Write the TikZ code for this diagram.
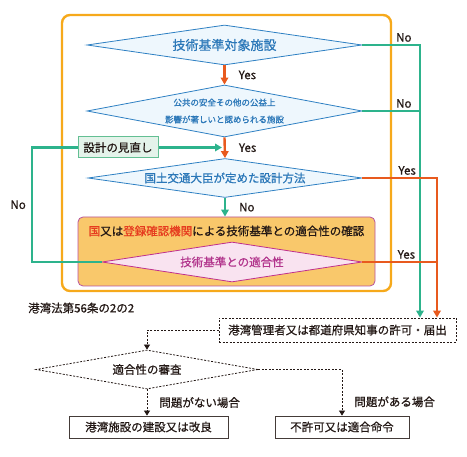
\documentclass[tikz,border=0pt]{standalone}
\usepackage{fontspec}
\setmainfont{Noto Sans CJK JP}[FakeBold=0.7]
\usepackage{tikz}
\usetikzlibrary{arrows.meta}
\usetikzlibrary{positioning}
\usetikzlibrary{shapes.geometric}
\definecolor{frameor}{HTML}{F6A91B}
\definecolor{arrowor}{HTML}{E85A1E}
\definecolor{grn}{HTML}{2DB38C}
\definecolor{qblue}{HTML}{2E80C3}
\definecolor{qfill}{HTML}{EEF7FD}
\definecolor{qtext}{HTML}{2A77B8}
\definecolor{boxor}{HTML}{F9C86B}
\definecolor{boxpk}{HTML}{B9539D}
\definecolor{pkline}{HTML}{C0308C}
\definecolor{pkfill}{HTML}{F9E3F0}
\definecolor{pktext}{HTML}{B2348C}
\definecolor{redtx}{HTML}{E63B1F}
\definecolor{revfill}{HTML}{E4F3EA}
\definecolor{revline}{HTML}{63BF93}
\definecolor{ink}{HTML}{231815}

\begin{document}
\begin{tikzpicture}[x=1pt,y=-1pt,font=\fontsize{11.5}{14}\selectfont,text=ink]
	\tikzset{
		Q/.style={diamond,draw=qblue,fill=qfill,line width=0.8pt,inner sep=0pt},
		QT/.style={text=qtext,inner sep=0pt},
		DQ/.style={diamond,draw=ink,dash pattern=on 2pt off 1.5pt,line width=0.8pt,inner sep=0pt},
		DB/.style={draw=ink,dash pattern=on 2pt off 1.5pt,line width=0.8pt,inner sep=0pt},
		B/.style={draw=ink!85,line width=0.8pt,minimum height=22pt,inner sep=0pt},
		G/.style={draw=grn,line width=2.4pt},
		O/.style={draw=arrowor,line width=2.4pt},
		DL/.style={draw=ink,dash pattern=on 2pt off 1.5pt,line width=0.8pt,-{Triangle[length=5pt,width=6pt]}},
		L/.style={inner sep=0pt,text=ink},
		>={Triangle[length=7pt,width=7.5pt]},
	}
	\useasboundingbox (0,0) rectangle (467,457);
	
	\draw[frameor,line width=2.4pt,rounded corners=8pt] (62,15) rectangle (391,291);
	
	\node[Q,minimum width=275pt,minimum height=40pt,label={[QT,font=\fontsize{13}{15}\selectfont]center:技術基準対象施設}] (d1) at (224.5,45) {};
	\node[Q,minimum width=275pt,minimum height=52pt,label={[QT,align=center,font=\fontsize{8.5}{17}\selectfont]center:公共の安全その他の公益上\\影響が著しいと認められる施設}] (d2) at (224.5,111) {};
	\node[Q,minimum width=274pt,minimum height=39pt,label={[QT]center:国土交通大臣が定めた設計方法}] (d3) at (225,178) {};
	\node[draw=boxpk,fill=boxor,line width=0.8pt,rounded corners=5pt,minimum width=297pt,minimum height=69pt] (chk) at (226.5,251.5) {};
	\node[L] (chkt) at (226.5,231) {\textcolor{redtx}{国}又は\textcolor{redtx}{登録確認機関}による技術基準との適合性の確認};
	\node[diamond,draw=pkline,fill=pkfill,line width=0.8pt,inner sep=0pt,minimum width=260pt,minimum height=40pt,label={[L,text=pktext]center:技術基準との適合性}] (d4) at (232,262) {};
	\node[draw=revline,fill=revfill,line width=1pt,minimum width=80pt,minimum height=21pt,inner sep=0pt] (rev) at (118,147.5) {設計の見直し};
	
	\node[L,anchor=west] (law) at (28,308) {港湾法第56条の2の2};
	\node[DB,minimum width=237pt,minimum height=24pt] (prm) at (337.5,330) {港湾管理者又は都道府県知事の許可・届出};
	\node[DQ,minimum width=222pt,minimum height=39pt,label={[L]center:適合性の審査}] (d5) at (147,369.5) {};
	\node[B,minimum width=159pt] (ok) at (148.5,427) {港湾施設の建設又は改良};
	\node[B,minimum width=134pt] (ng) at (342,427) {不許可又は適合命令};
	
	\coordinate (gx) at (420,0);
	\coordinate (ox) at (437,0);
	\coordinate (lx) at (32,0);
	\coordinate (mrg) at (d3.north |- rev);
	
	% main flow
	\draw[O,->] (d1.south) -- (d2.north) node[L,midway,right=13pt] {Yes};
	\draw[O,->] (d2.south) -- (d3.north) node[L,midway,right=13pt] {Yes};
	\draw[G,->] (rev.east) -- ([xshift=-3pt]mrg);
	\draw[G,->] (d3.south) -- (d3.south |- chk.north) node[L,midway,right=13pt] {No};
	
	% exits to the right
	\draw[G,->] (d1.east) -| (gx |- prm.north) node[L,pos=0.36,above=2pt] {No};
	\draw[G] (d2.east) -- (gx |- d2.east) node[L,pos=0.72,above=2pt] {No};
	\draw[O,->] (d3.east) -| (ox |- prm.north) node[L,pos=0.3,above=2pt] {Yes};
	\draw[O] (d4.east) -- (ox |- d4.east) node[L,pos=0.59,above=2pt] {Yes};
	\draw[G] (d4.west) -- (lx |- d4.west) |- (rev.west) node[L,pos=0.25,left=5pt] {No};
	
	% review
	\draw[DL] (prm.west) -| (d5.north);
	\draw[DL] (d5.south) -- (d5.south |- ok.north) node[L,midway,right=12pt] {問題がない場合};
	\draw[DL] (d5.east) -| (ng.north) node[L,pos=0.85,right=12pt] {問題がある場合};
\end{tikzpicture}
\end{document}
